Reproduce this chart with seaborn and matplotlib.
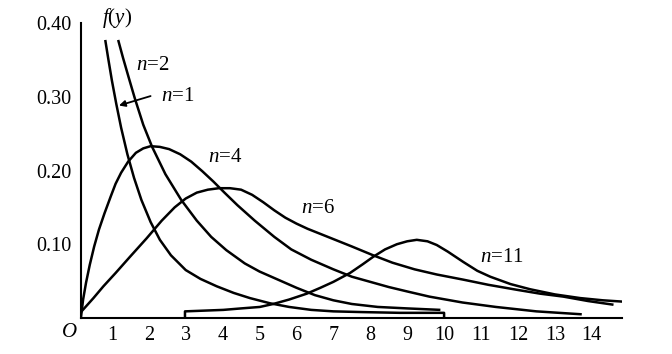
import matplotlib
matplotlib.use("Agg")
import matplotlib.pyplot as plt
import seaborn as sns
import pandas as pd

# ---- data (y, f(y)) ----
n1_y = [0.82, 0.90, 1.00, 1.12, 1.25, 1.42, 1.60, 1.80, 2.05, 2.30, 2.60, 3.00, 3.40, 3.84, 4.30, 4.74,
        5.28, 5.80, 6.40, 7.00, 7.80, 8.80, 9.90, 10.0, 10.0]
n1_f = [0.377, 0.352, 0.322, 0.290, 0.258, 0.222, 0.190, 0.160, 0.130, 0.106, 0.085, 0.065, 0.053, 0.043,
        0.034, 0.027, 0.020, 0.015, 0.011, 0.009, 0.008, 0.007, 0.007, 0.007, 0.0]

n2_y = [1.17, 1.30, 1.45, 1.62, 1.85, 2.09, 2.45, 2.88, 3.30, 3.69, 4.10, 4.60, 5.00, 5.50, 6.00, 6.50,
        7.00, 7.50, 8.20, 9.00, 9.90]
n2_f = [0.377, 0.353, 0.327, 0.298, 0.262, 0.232, 0.195, 0.160, 0.132, 0.110, 0.092, 0.074, 0.063, 0.052,
        0.041, 0.031, 0.024, 0.019, 0.015, 0.013, 0.011]

n4_y = [0.16, 0.22, 0.30, 0.40, 0.52, 0.65, 0.80, 0.97, 1.10, 1.25, 1.44, 1.65, 1.85, 2.05, 2.30, 2.55,
        2.85, 3.15, 3.45, 3.75, 4.05, 4.40, 4.87, 5.40, 5.86, 6.40, 7.00, 7.50, 8.00, 8.50, 9.00, 9.60,
        10.50, 11.40, 12.50, 13.73]
n4_f = [0.000, 0.025, 0.048, 0.072, 0.097, 0.120, 0.142, 0.165, 0.182, 0.197, 0.212, 0.224, 0.230, 0.233,
        0.232, 0.229, 0.222, 0.212, 0.199, 0.185, 0.170, 0.153, 0.132, 0.110, 0.093, 0.079, 0.066, 0.056,
        0.049, 0.042, 0.036, 0.029, 0.021, 0.015, 0.009, 0.005]

n6_y = [0.16, 0.50, 0.77, 1.10, 1.49, 1.94, 2.35, 2.70, 3.00, 3.30, 3.60, 3.90, 4.20, 4.50, 4.80, 5.10,
        5.40, 5.70, 6.00, 6.30, 6.70, 7.00, 7.50, 8.08, 8.60, 9.20, 9.80, 10.52, 11.20, 12.00, 12.60,
        13.23, 13.90, 14.59]
n6_f = [0.008, 0.027, 0.043, 0.061, 0.083, 0.108, 0.132, 0.150, 0.162, 0.170, 0.174, 0.176, 0.176, 0.174,
        0.167, 0.157, 0.146, 0.136, 0.128, 0.121, 0.113, 0.107, 0.097, 0.085, 0.075, 0.066, 0.059, 0.052,
        0.045, 0.038, 0.033, 0.029, 0.023, 0.018]

n11_y = [2.98, 2.98, 3.50, 4.02, 4.50, 5.01, 5.37, 5.80, 6.28, 6.65, 7.00, 7.45, 7.80, 8.08, 8.40, 8.72,
         9.00, 9.26, 9.55, 9.80, 10.10, 10.52, 10.90, 11.25, 11.80, 12.33, 13.00, 13.69, 14.30, 14.90]
n11_f = [0.000, 0.009, 0.010, 0.011, 0.013, 0.015, 0.019, 0.025, 0.033, 0.041, 0.049, 0.061, 0.073, 0.083,
         0.093, 0.100, 0.104, 0.106, 0.104, 0.099, 0.090, 0.076, 0.064, 0.056, 0.046, 0.039, 0.032, 0.027,
         0.024, 0.022]

x_ticks = list(range(1, 15))
y_ticks = [0.10, 0.20, 0.30, 0.40]
y_tick_labels = ["0.10", "0.20", "0.30", "0.40"]

series = {"1": (n1_y, n1_f), "2": (n2_y, n2_f), "4": (n4_y, n4_f),
          "6": (n6_y, n6_f), "11": (n11_y, n11_f)}
rows = []
for name, (xs, fs) in series.items():
    for i, (xv, fv) in enumerate(zip(xs, fs)):
        rows.append({"n": name, "order": i, "y": xv, "f": fv})
df = pd.DataFrame(rows)

sns.set_theme(style="white")
plt.rcParams["font.family"] = ["Liberation Serif", "DejaVu Serif"]
plt.rcParams["mathtext.fontset"] = "custom"
plt.rcParams["mathtext.it"] = "Liberation Serif:italic"
plt.rcParams["mathtext.rm"] = "Liberation Serif"

fig = plt.figure(figsize=(6.72, 3.54), dpi=100)
ax = fig.add_axes([81 / 672, 1 - 318 / 354, (622 - 81) / 672, (318 - 23) / 354])

sns.lineplot(data=df, x="y", y="f", hue="n", units="n", estimator=None, sort=False,
             palette={k: "black" for k in series}, linewidth=1.8, legend=False, ax=ax)
for ln in ax.lines:
    ln.set_solid_joinstyle("round")
    ln.set_solid_capstyle("butt")

ax.set_xlim(0.163, 14.82)
ax.set_ylim(0, 0.40)
ax.set_xlabel("")
ax.set_ylabel("")
for s in ["top", "right"]:
    ax.spines[s].set_visible(False)
for s in ["left", "bottom"]:
    ax.spines[s].set_color("black")
    ax.spines[s].set_linewidth(1.5)

ax.set_xticks(x_ticks)
ax.set_xticklabels([str(t) for t in x_ticks])
ax.set_yticks(y_ticks)
ax.set_yticklabels(y_tick_labels)
ax.tick_params(axis="x", direction="in", length=4, width=1.3, pad=6, labelsize=14.5, colors="black")
ax.tick_params(axis="y", direction="in", length=6, width=1.3, pad=7, labelsize=14.5, colors="black")

txt = dict(fontsize=15, color="black", ha="center", va="center")
ax.text(1.15, 0.407, r"$f$($y$)", clip_on=False, **txt)
ax.text(-0.15, -0.02, r"$O$", clip_on=False, **txt)
ax.text(2.11, 0.343, r"$n$=2", **txt)
ax.text(2.78, 0.300, r"$n$=1", **txt)
ax.text(4.07, 0.218, r"$n$=4", **txt)
ax.text(6.59, 0.149, r"$n$=6", **txt)
ax.text(11.57, 0.082, r"$n$=11", **txt)
ax.annotate("", xy=(1.12, 0.287), xytext=(2.12, 0.302),
            arrowprops=dict(arrowstyle="-|>", color="black", lw=1.3, mutation_scale=9))

fig.savefig("out.png", dpi=100)
